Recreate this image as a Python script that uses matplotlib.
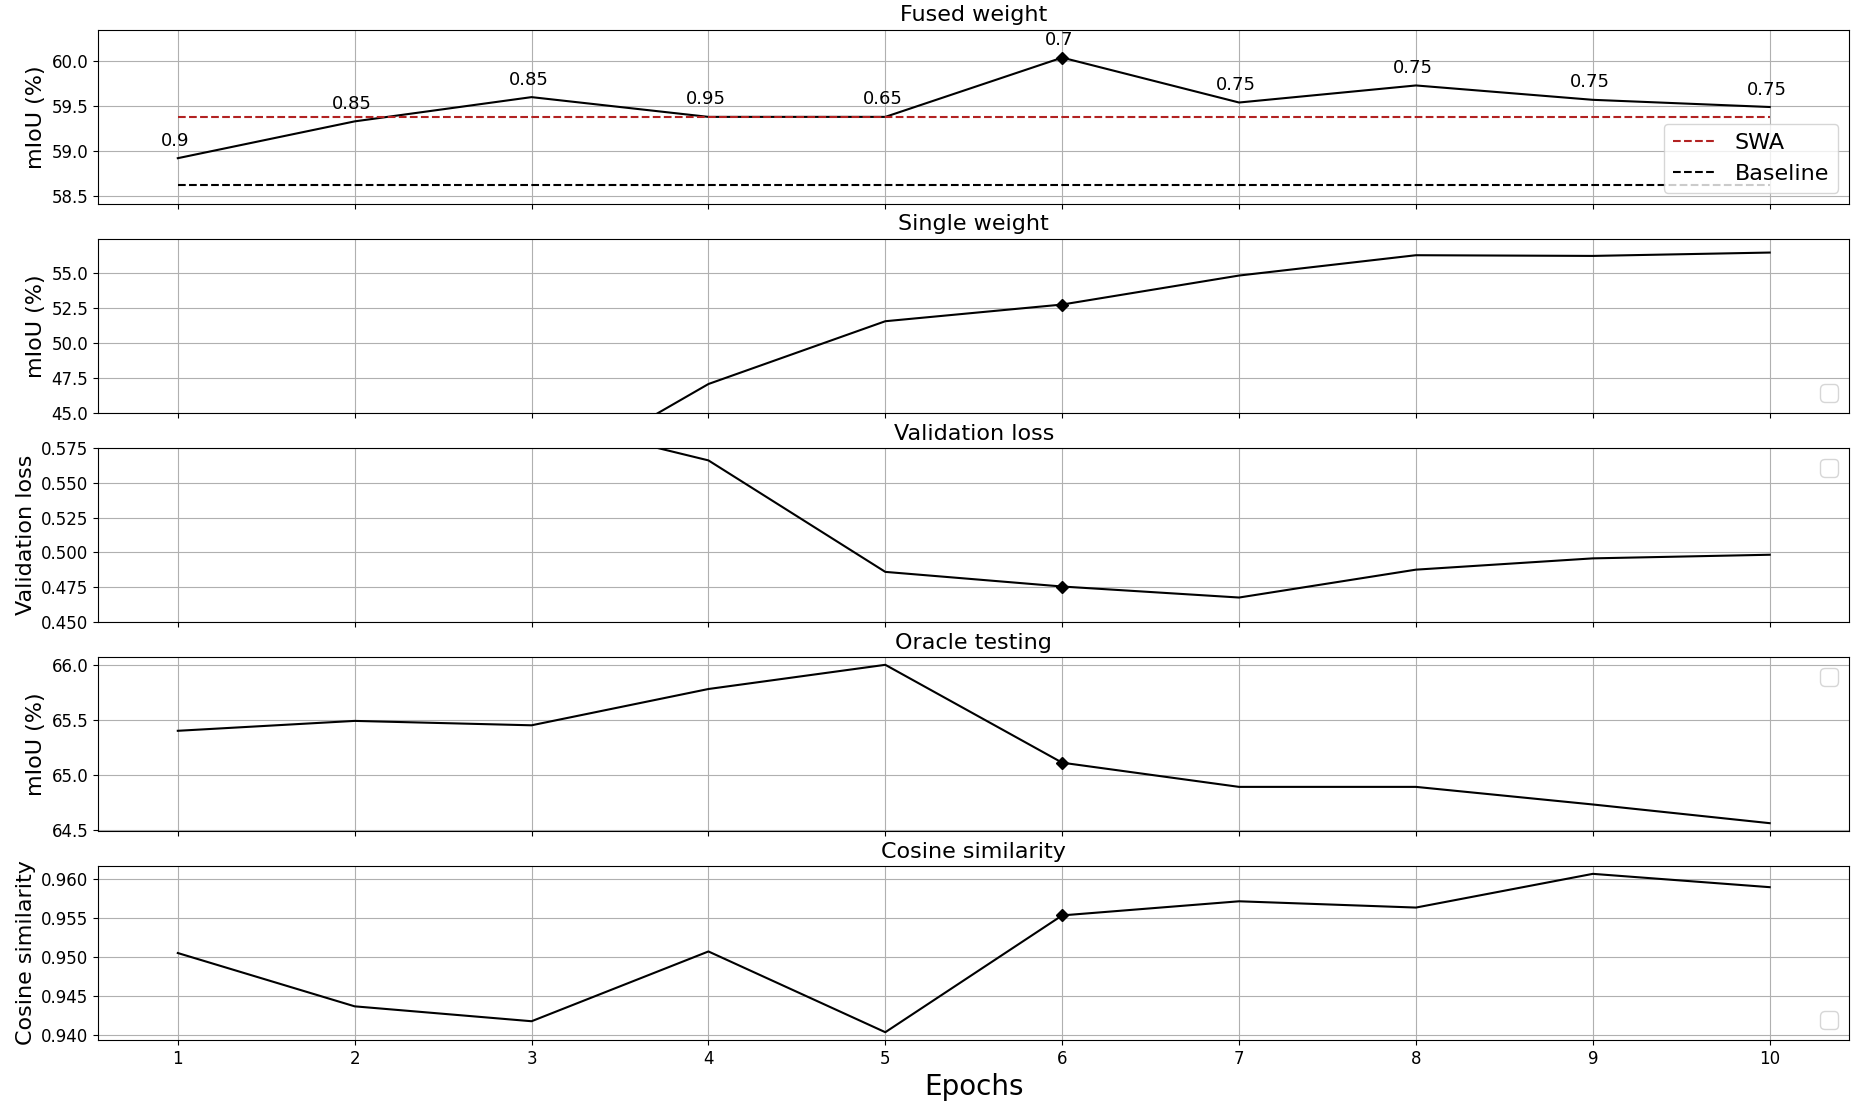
import matplotlib
matplotlib.use("Agg")
import matplotlib.pyplot as plt

# epochs on the shared x axis
epochs = [1, 2, 3, 4, 5, 6, 7, 8, 9, 10]
best_epoch = 6

# fused weight mIoU and the fusion coefficient written above each point
fused_miou = [58.92, 59.33, 59.60, 59.38, 59.38, 60.04, 59.54, 59.73, 59.57, 59.49]
fused_alpha = ["0.9", "0.85", "0.85", "0.95", "0.65", "0.7", "0.75", "0.75", "0.75", "0.75"]
swa_miou = 59.38
baseline_miou = 58.62

# single weight mIoU (first epochs fall below the visible range)
single_miou = [36.9, 38.6, 39.8, 47.07, 51.55, 52.74, 54.81, 56.26, 56.21, 56.45]

# validation loss (first epochs above the visible range)
val_loss = [0.640, 0.615, 0.597, 0.566, 0.486, 0.4755, 0.4676, 0.4876, 0.4957, 0.4983]

# oracle testing mIoU
oracle_miou = [65.40, 65.49, 65.45, 65.78, 66.00, 65.11, 64.89, 64.89, 64.73, 64.56]

# cosine similarity
cos_sim = [0.9505, 0.9437, 0.9418, 0.9507, 0.9404, 0.9553, 0.9571, 0.9563, 0.9606, 0.9589]

fig, axes = plt.subplots(5, 1, figsize=(18.53, 11.03), dpi=100, sharex=True)
fig.subplots_adjust(left=0.053, right=0.998, top=0.973, bottom=0.057, hspace=0.2)

panels = [
    ("Fused weight", "mIoU (%)", fused_miou),
    ("Single weight", "mIoU (%)", single_miou),
    ("Validation loss", "Validation loss", val_loss),
    ("Oracle testing", "mIoU (%)", oracle_miou),
    ("Cosine similarity", "Cosine similarity", cos_sim),
]

bi = epochs.index(best_epoch)
for ax, (title, ylabel, values) in zip(axes, panels):
    ax.plot(epochs, values, color="black", linewidth=1.5)
    ax.plot(epochs[bi], values[bi], marker="D", markersize=6.5, color="black")
    ax.set_title(title, fontsize=16)
    ax.set_ylabel(ylabel, fontsize=16)
    ax.tick_params(labelsize=12)
    ax.grid(True)

# fused panel extras
ax = axes[0]
ax.plot(epochs, [swa_miou] * len(epochs), "--", color="firebrick", linewidth=1.5, label="SWA")
ax.plot(epochs, [baseline_miou] * len(epochs), "--", color="black", linewidth=1.5, label="Baseline")
for x, y, a in zip(epochs, fused_miou, fused_alpha):
    ax.annotate(a, (x, y), textcoords="offset points", xytext=(-2, 9),
                ha="center", fontsize=13)
ax.set_ylim(58.41, 60.35)
ax.legend(loc="lower right", fontsize=16)

axes[1].set_ylim(45, 57.43)
axes[2].set_ylim(0.45, 0.575)

# the other panels carry an empty legend box
axes[1].legend(loc="lower right", fontsize=16)
axes[2].legend(loc="upper right", fontsize=16)
axes[3].legend(loc="upper right", fontsize=16)
axes[4].legend(loc="lower right", fontsize=16)

axes[-1].set_xticks(epochs)
axes[-1].set_xlabel("Epochs", fontsize=20)

fig.savefig("out.png")
